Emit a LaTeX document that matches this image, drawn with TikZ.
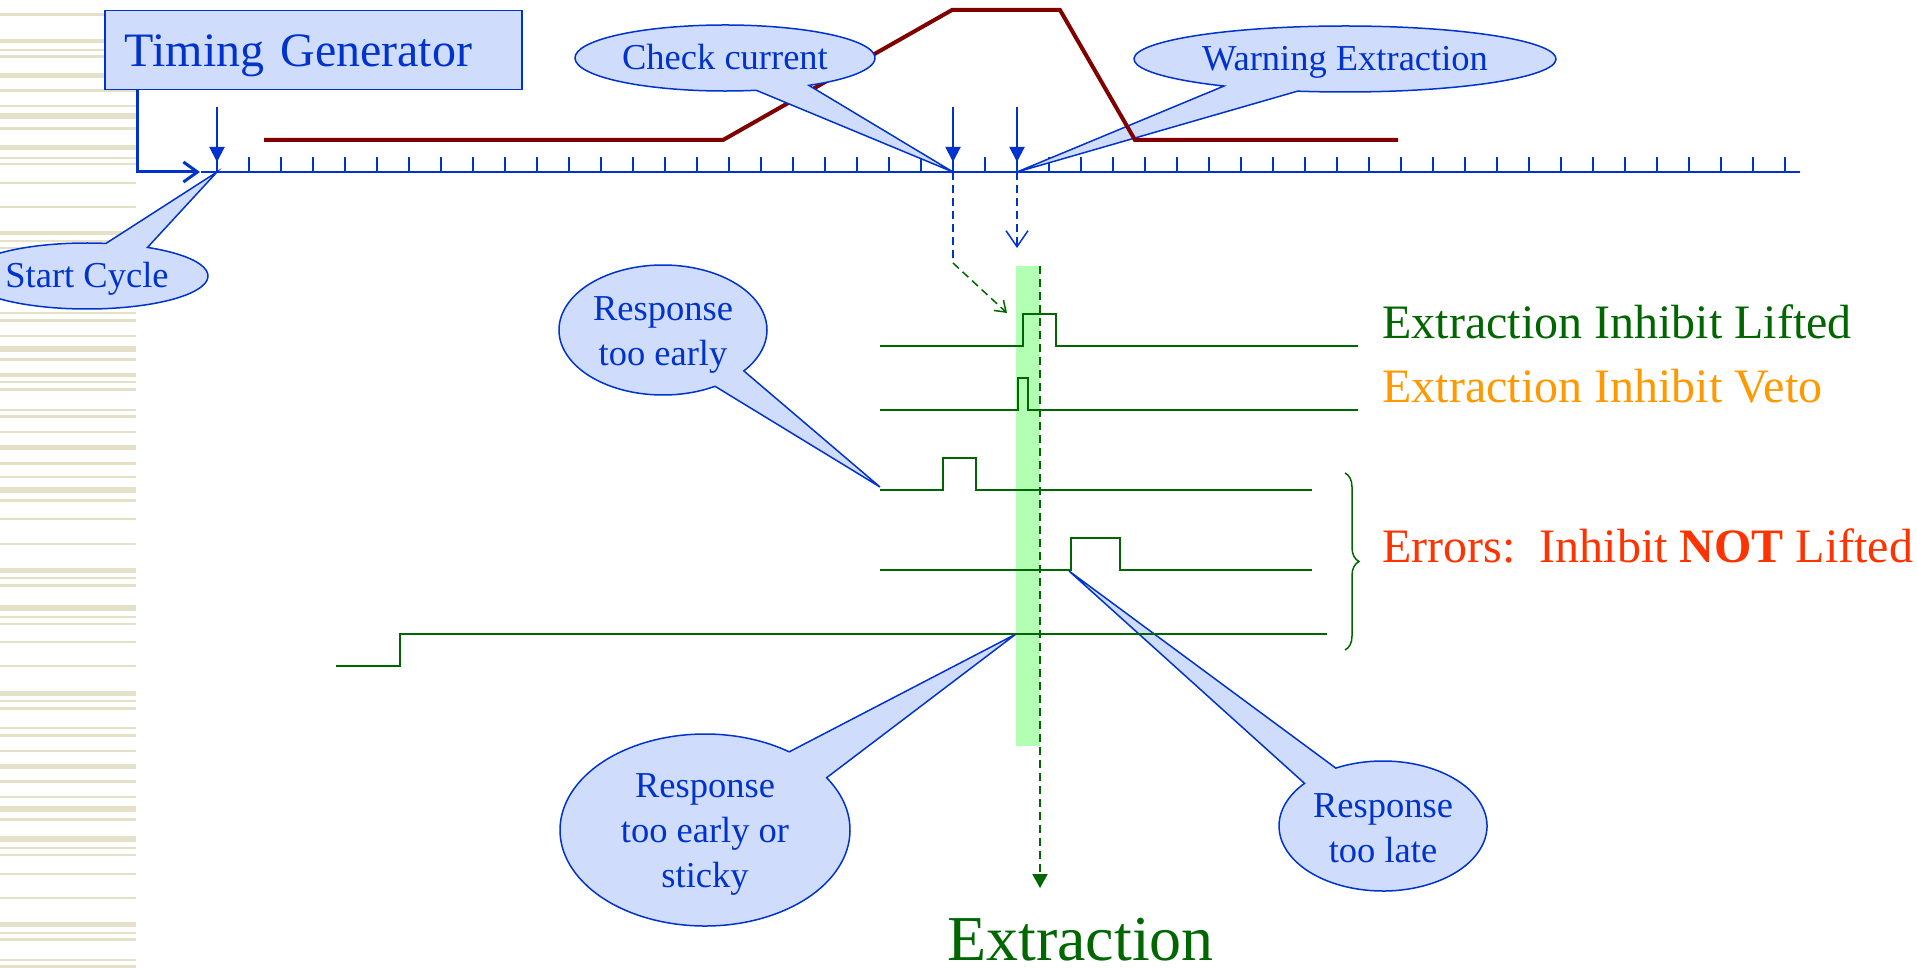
\documentclass[tikz,border=0pt]{standalone}
\usepackage{fontspec}
\setmainfont{Liberation Serif}
\usetikzlibrary{arrows.meta,shapes.geometric,decorations.pathreplacing}
\definecolor{tgblue}{RGB}{0,51,204}
\definecolor{bubblefill}{RGB}{208,220,252}
\definecolor{dred}{RGB}{128,0,0}
\definecolor{sgreen}{RGB}{0,102,0}
\definecolor{vorange}{RGB}{255,153,0}
\definecolor{ered}{RGB}{255,51,0}
\definecolor{bargreen}{RGB}{179,255,179}
\definecolor{stripe}{RGB}{228,225,200}
% #1,#2 centre, #3,#4 radii, #5,#6 parameter angles of the pointer base, #7 tip
\newcommand\bubblepath[7]{%
  \filldraw[bubbleline] (#1,#2) ++(#6:#3 and #4)
    arc[start angle=#6, end angle={#5+360}, x radius=#3, y radius=#4]
    -- (#7) -- cycle;}
\begin{document}
\begin{tikzpicture}[x=1pt,y=-1pt,
  bubbleline/.style={draw=tgblue, fill=bubblefill, line width=1.5pt, line join=miter},
  bubbletext/.style={ellipse, inner sep=0pt, text=tgblue,
    font=\fontsize{36.5}{45}\selectfont, align=center},
  onetext/.style={bubbletext, text height=24pt, text depth=0pt},
  tgbox/.style={draw=tgblue, fill=bubblefill, line width=1.5pt, text=tgblue,
    minimum width=417pt, minimum height=79pt, text width=377pt, inner xsep=20pt,
    inner ysep=0pt, align=left, text height=40pt, text depth=7pt,
    font=\fontsize{48}{58}\selectfont},
  tl/.style={draw=tgblue, line width=1.5pt},
  downarrow/.style={draw=tgblue, line width=2pt, -{Triangle[length=15pt,width=15pt]}},
  sig/.style={draw=sgreen, line width=2pt},
  label/.style={anchor=base west, font=\fontsize{48}{58}\selectfont},
]
\useasboundingbox (0,0) rectangle (1917,968);
% background stripes
\foreach \y/\h in {13/3,39/4,49/2,55/3,73/5,89/3,105/2,113/6,127/3,145/5,157/2,163/2,182/2,206/2,231/4,240/2,247/2,312/2,319/3,335/2,346/6,358/3,373/4,381/2,388/3,409/2,415/3,431/2,445/5,462/3,476/2,487/6,499/3,518/2,543/2,568/5,577/2,584/3,605/6,616/2,623/2,641/2,665/2,691/5,700/2,707/3,727/2,734/3,750/2,764/5,780/3,796/2,806/6,818/3,836/6,847/2,854/2,873/2,897/2,922/5,932/2,938/3,959/2,965/3}
  \fill[stripe] (0,\y) rectangle (136,\y+\h);

% coordinates
\coordinate (t0) at (217,172);
\coordinate (t23) at (953,172);
\coordinate (t25) at (1017,172);
\coordinate (a0) at (217,107);
\coordinate (a23) at (953,107);
\coordinate (a25) at (1017,107);
\coordinate (h0) at (217,162);
\coordinate (h23) at (953,162);
\coordinate (h25) at (1017,162);
\coordinate (tlstart) at (201,172);
\coordinate (tlend) at (1800,172);
\coordinate (startin) at (200,172);
\coordinate (bend) at (953,263);
\coordinate (greentip) at (1007,313);
\coordinate (bluetip) at (1017,248);
\coordinate (extop) at (1040,266);
\coordinate (exbot) at (1040,888);
\coordinate (s3start) at (880,487);
\coordinate (s5hit) at (1016,634);
\coordinate (s4hit) at (1069,571);

% timing generator
\node[tgbox, anchor=north west] (tg) at (104,10) {Timing Generator};
\draw[tgblue, line width=3pt, -{Straight Barb[length=14pt,width=20pt]}]
  (tg.south west) ++(33,0) |- (startin);

% timeline
\draw[tl] (tlstart) -- (tlend);
\foreach \k in {0,...,49}
  \draw[tl] (217+32*\k,157) -- (217+32*\k,172);

% callouts (top)
\bubblepath{87}{276}{121}{33}{-81}{-60}{t0}
\node[onetext, minimum width=242pt, minimum height=66pt] (start) at (87,276) {Start Cycle};
\bubblepath{1345}{59}{211}{33}{103}{125}{t25}
\node[onetext, minimum width=422pt, minimum height=66pt] (warn) at (1345,59) {Warning Extraction};

% dark red current curve
\draw[dred, line width=4pt] (264,140) -- (723,140) -- (952,10) -- (1060,10) -- (1135,140) -- (1398,140);

\bubblepath{725}{58}{150}{33}{56}{78}{t23}
\node[onetext, minimum width=300pt, minimum height=66pt] (check) at (725,58) {Check current};

% down arrows
\draw[downarrow] (a0) -- (h0);
\draw[downarrow] (a23) -- (h23);
\draw[downarrow] (a25) -- (h25);

% lower callouts
\bubblepath{663}{330}{104}{65}{39}{60}{s3start}
\node[bubbletext, minimum width=208pt, minimum height=130pt] (early) at (663,335) {Response\\too early};
\bubblepath{705}{830}{145}{96}{-54.5}{-33}{s5hit}
\node[bubbletext, minimum width=290pt, minimum height=192pt] (sticky) at (705,834) {Response\\too early or\\sticky};
\bubblepath{1383}{826}{104}{65}{-139}{-117}{s4hit}
\node[bubbletext, minimum width=208pt, minimum height=130pt] (late) at (1383,828) {Response\\too late};

% green window
\fill[bargreen] (1016,266) rectangle (1040,746);

% dashed connectors
\draw[tgblue, line width=1.5pt, dash pattern=on 8pt off 5pt] (t23) -- (bend);
\draw[sgreen, line width=1.5pt, dash pattern=on 8pt off 5pt, -{Straight Barb[length=10pt,width=14pt]}] (bend) -- (greentip);
\draw[tgblue, line width=1.5pt, dash pattern=on 8pt off 5pt, -{Straight Barb[length=16pt,width=22pt]}] (t25) -- (bluetip);

% signals
\draw[sig] (880,346) -- (1023,346) -- (1023,314) -- (1056,314) -- (1056,346) -- (1358,346);
\draw[sig] (880,410) -- (1018,410) -- (1018,378) -- (1028,378) -- (1028,410) -- (1358,410);
\draw[sig] (880,490) -- (943,490) -- (943,458) -- (976,458) -- (976,490) -- (1312,490);
\draw[sig] (880,570) -- (1071,570) -- (1071,538) -- (1120,538) -- (1120,570) -- (1312,570);
\draw[sig] (336,666) -- (400,666) -- (400,634) -- (1327,634);

% extraction dashed arrow
\draw[sgreen, line width=2pt, dash pattern=on 8pt off 5pt, -{Triangle[length=14pt,width=15pt]}] (extop) -- (exbot);

% brace
\draw[sgreen, line width=1.5pt, decorate, decoration={brace, amplitude=14pt}] (1345,473) -- (1345,650);

% labels
\node[label, text=sgreen] (lifted) at (1379,338) {Extraction Inhibit Lifted};
\node[label, text=vorange] (veto) at (1379,402) {Extraction Inhibit Veto};
\node[label, text=ered] (errors) at (1379,562) {Errors:\ \ Inhibit \textbf{NOT} Lifted};
\node[anchor=base west, inner sep=0pt, text depth=0pt, text=sgreen, font=\fontsize{64}{75}\selectfont] (extraction) at (947,960) {Extraction};
\end{tikzpicture}
\end{document}
